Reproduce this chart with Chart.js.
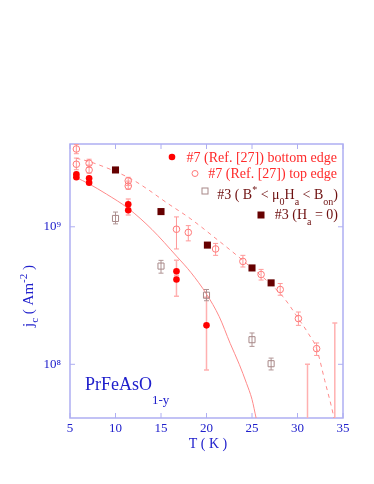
<!DOCTYPE html>
<html>
<head>
<meta charset="utf-8">
<script src="https://cdn.jsdelivr.net/npm/chart.js@4"></script>
<style>
  body { margin: 0; background: #fff; }
</style>
</head>
<body>
<canvas id="myChart" width="374" height="484"></canvas>
<script>
// sample #7 bottom edge (filled red circles)
const bottomT  = [5.7, 5.7, 7.1, 7.1, 11.4, 11.4, 16.7, 16.7, 20.0, 31.1, 34.1];
const bottomJ  = [2.41e9, 2.29e9, 2.25e9, 2.09e9, 1.46e9, 1.32e9, 4.75e8, 4.14e8, 1.92e8, 2.0e7, 2.0e7];
const bottomLo = [null, null, null, null, 1.37e9, 1.22e9, 4.4e8, 3.13e8, 9.1e7, 1.0e7, 1.0e7];
const bottomHi = [null, null, null, null, 1.59e9, 1.42e9, 5.71e8, 4.45e8, 3.08e8, 1.0e8, 2.0e8];

// sample #7 top edge (open circles)
const topT  = [5.7, 5.7, 7.1, 7.1, 11.4, 11.4, 16.7, 18.0, 21.0, 24.0, 26.0, 28.1, 30.1, 32.1];
const topJ  = [3.68e9, 2.85e9, 2.9e9, 2.59e9, 2.16e9, 1.98e9, 9.6e8, 9.1e8, 6.9e8, 5.6e8, 4.5e8, 3.5e8, 2.15e8, 1.3e8];
const topLo = [3.4e9, 2.6e9, 2.7e9, 2.45e9, 2.0e9, 1.87e9, 6.9e8, 7.9e8, 6.2e8, 5.1e8, 4.1e8, 3.18e8, 1.92e8, 1.16e8];
const topHi = [3.97e9, 3.16e9, 3.1e9, 2.81e9, 2.29e9, 2.15e9, 1.18e9, 1.02e9, 7.57e8, 6.2e8, 4.9e8, 3.87e8, 2.4e8, 1.43e8];

// sample #3, B* < mu0 Ha < Bon (open squares)
const sq3T  = [10.0, 15.0, 20.0, 25.0, 27.1];
const sq3J  = [1.15e9, 5.18e8, 3.18e8, 1.51e8, 1.01e8];
const sq3Lo = [1.05e9, 4.6e8, 2.9e8, 1.35e8, 9.1e7];
const sq3Hi = [1.28e9, 5.7e8, 3.5e8, 1.69e8, 1.11e8];

// sample #3, Ha = 0 (filled dark squares)
const h0T = [10.0, 15.0, 20.1, 25.0, 27.1];
const h0J = [2.59e9, 1.29e9, 7.36e8, 5.02e8, 3.91e8];

// guide curves
const fitBottomT = [5.7, 7.1, 9.0, 11.4, 14.0, 16.7, 18.3, 20.0, 21.4, 22.6, 23.6, 24.4, 25.0, 25.45, 25.8];
const fitBottomJ = [2.28e9, 2.05e9, 1.73e9, 1.36e9, 9.57e8, 6.12e8, 4.64e8, 3.24e8, 2.22e8, 1.42e8, 1.0e8, 7.27e7, 5.56e7, 4.07e7, 3.2e7];
const fitTopT = [5.7, 7.2, 11.6, 13.4, 15.6, 18.2, 20.75, 24.4, 28.4, 30.1, 31.2, 32.1, 33.0, 33.9, 34.2];
const fitTopJ = [3.15e9, 2.97e9, 2.25e9, 1.9e9, 1.5e9, 1.15e9, 8.5e8, 5.4e8, 3.1e8, 2.15e8, 1.67e8, 1.3e8, 7.6e7, 4.4e7, 3.5e7];

// axes
const xTicks = [5, 10, 15, 20, 25, 30, 35];
const yDecades = [1e8, 1e9];
const yMin = 4.07e7, yMax = 4.0e9;

const SERIF = "'Liberation Serif', 'Times New Roman', serif";
const BLUE = '#2020cc';
const FRAME = '#aeaef2';

const pts = (xs, ys) => xs.map((v, i) => ({x: v, y: ys[i]}));

function richText(ctx, parts, x, y, size, align, color, subOff) {
  let w = 0;
  const sizes = parts.map(p => p[1] === 'n' ? size : Math.round(size * 0.7));
  parts.forEach((p, i) => { ctx.font = sizes[i] + 'px ' + SERIF; w += ctx.measureText(p[0]).width; });
  let cx = align === 'right' ? x - w : align === 'center' ? x - w / 2 : x;
  ctx.fillStyle = color;
  ctx.textAlign = 'left';
  ctx.textBaseline = 'alphabetic';
  parts.forEach((p, i) => {
    ctx.font = sizes[i] + 'px ' + SERIF;
    let dy = 0;
    if (p[1] === 'sub') dy = size * (subOff || 0.4);
    if (p[1] === 'sup') dy = -size * 0.42;
    ctx.fillText(p[0], cx, y + dy);
    cx += ctx.measureText(p[0]).width;
  });
}

const framePlugin = {
  id: 'frame',
  beforeDatasetsDraw(chart) {
    const {ctx, chartArea: a, scales: {x, y}} = chart;
    ctx.save();
    ctx.strokeStyle = FRAME;
    ctx.lineWidth = 1.5;
    ctx.strokeRect(a.left, a.top, a.right - a.left, a.bottom - a.top);
    ctx.lineWidth = 1;
    ctx.beginPath();
    xTicks.forEach(t => {
      const px = x.getPixelForValue(t);
      ctx.moveTo(px, a.bottom); ctx.lineTo(px, a.bottom - 5);
      ctx.moveTo(px, a.top); ctx.lineTo(px, a.top + 5);
    });
    yDecades.forEach(t => {
      const py = y.getPixelForValue(t);
      ctx.moveTo(a.left, py); ctx.lineTo(a.left + 5, py);
      ctx.moveTo(a.right, py); ctx.lineTo(a.right - 5, py);
    });
    ctx.stroke();

    // error bars
    ctx.beginPath();
    ctx.rect(a.left, a.top, a.right - a.left, a.bottom - a.top);
    ctx.clip();
    chart.data.datasets.forEach(ds => {
      if (!ds.errLo) return;
      ctx.strokeStyle = ds.errColor;
      ctx.lineWidth = ds.errWidth;
      ds.data.forEach((p, i) => {
        const lo = ds.errLo[i], hi = ds.errHi[i];
        if (lo == null) return;
        const px = x.getPixelForValue(p.x);
        const y1 = y.getPixelForValue(lo), y2 = y.getPixelForValue(hi);
        ctx.beginPath();
        ctx.moveTo(px, y1); ctx.lineTo(px, y2);
        ctx.moveTo(px - 2.5, y1); ctx.lineTo(px + 2.5, y1);
        ctx.moveTo(px - 2.5, y2); ctx.lineTo(px + 2.5, y2);
        ctx.stroke();
      });
    });
    ctx.restore();
  }
};

const notesPlugin = {
  id: 'notes',
  afterDraw(chart) {
    const ctx = chart.ctx;
    ctx.save();
    // legend markers
    ctx.fillStyle = '#ff0000';
    ctx.beginPath(); ctx.arc(172, 157, 3.3, 0, Math.PI * 2); ctx.fill();
    ctx.strokeStyle = '#ff7878'; ctx.lineWidth = 1;
    ctx.beginPath(); ctx.arc(195, 173.5, 3, 0, Math.PI * 2); ctx.stroke();
    ctx.strokeStyle = '#a88888';
    ctx.strokeRect(202, 188, 6, 6);
    ctx.fillStyle = '#660000';
    ctx.fillRect(257.5, 211.5, 7, 7);

    // legend text
    richText(ctx, [['#7 (Ref. [27]) bottom edge', 'n']], 337, 162, 14, 'right', '#ff2a2a');
    richText(ctx, [['#7 (Ref. [27]) top edge', 'n']], 337, 178, 14, 'right', '#ff2a2a');
    richText(ctx, [['#3 ( B', 'n'], ['*', 'sup'], [' < \u03bc', 'n'], ['0', 'sub'], ['H', 'n'], ['a', 'sub'],
                   [' < B', 'n'], ['on', 'sub'], [')', 'n']], 338, 199, 14, 'right', '#6e1010', 0.45);
    richText(ctx, [['#3 (H', 'n'], ['a', 'sub'], [' = 0)', 'n']], 338, 219, 14, 'right', '#6e1010', 0.45);

    // sample name
    richText(ctx, [['PrFeAsO', 'n'], ['1-y', 'sub']], 85, 390, 18, 'left', BLUE, 0.8);

    // axis titles
    richText(ctx, [['T ( K )', 'n']], 208, 448, 14, 'center', BLUE);
    ctx.translate(33, 296);
    ctx.rotate(-Math.PI / 2);
    richText(ctx, [['j', 'n'], ['c', 'sub'], [' ( Am', 'n'], ['-2', 'sup'], [' )', 'n']], 0, 0, 15, 'center', BLUE, 0.35);
    ctx.restore();
  }
};

const supDigits = '\u2070\u00b9\u00b2\u00b3\u2074\u2075\u2076\u2077\u2078\u2079';

new Chart(document.querySelector('#myChart'), {
  type: 'scatter',
  data: {
    datasets: [
      {
        label: '#3 (Ha = 0)',
        data: pts(h0T, h0J),
        pointStyle: 'rect',
        pointRadius: 5,
        backgroundColor: '#660000',
        borderColor: '#660000',
        borderWidth: 0
      },
      {
        label: '#7 (Ref. [27]) bottom edge',
        data: pts(bottomT, bottomJ),
        pointStyle: 'circle',
        pointRadius: 3.3,
        backgroundColor: '#ff0000',
        borderColor: '#ff0000',
        borderWidth: 0,
        errLo: bottomLo, errHi: bottomHi, errColor: '#ffb0b0', errWidth: 1.5
      },
      {
        label: '#7 (Ref. [27]) top edge',
        data: pts(topT, topJ),
        pointStyle: 'circle',
        pointRadius: 3.3,
        backgroundColor: 'rgba(0,0,0,0)',
        borderColor: '#ff7878',
        borderWidth: 1,
        errLo: topLo, errHi: topHi, errColor: '#ff9a9a', errWidth: 1
      },
      {
        label: '#3 ( B* < μ0Ha < Bon)',
        data: pts(sq3T, sq3J),
        pointStyle: 'rect',
        pointRadius: 4.3,
        backgroundColor: 'rgba(0,0,0,0)',
        borderColor: '#a88888',
        borderWidth: 1,
        errLo: sq3Lo, errHi: sq3Hi, errColor: '#b09494', errWidth: 1
      },
      {
        data: pts(fitBottomT, fitBottomJ),
        showLine: true,
        pointRadius: 0,
        borderColor: '#ff8a8a',
        borderWidth: 1,
        cubicInterpolationMode: 'monotone'
      },
      {
        data: pts(fitTopT, fitTopJ),
        showLine: true,
        pointRadius: 0,
        borderColor: '#ff8a8a',
        borderWidth: 1,
        borderDash: [4, 4],
        cubicInterpolationMode: 'monotone'
      }
    ]
  },
  options: {
    responsive: false,
    animation: false,
    devicePixelRatio: 1,
    layout: { padding: { top: 144, right: 31, left: 0, bottom: 0 } },
    plugins: { legend: { display: false }, tooltip: { enabled: false } },
    scales: {
      x: {
        type: 'linear',
        min: 5, max: 35,
        afterFit: s => { s.height = 66; },
        grid: { display: false, drawTicks: false },
        border: { display: false },
        ticks: { stepSize: 5, padding: 3, color: BLUE, font: { family: SERIF, size: 13 } }
      },
      y: {
        type: 'logarithmic',
        min: yMin, max: yMax,
        afterFit: s => { s.width = 70; },
        grid: { display: false, drawTicks: false },
        border: { display: false },
        ticks: {
          autoSkip: false,
          padding: 9,
          color: BLUE,
          font: { family: SERIF, size: 13 },
          callback: v => {
            const l = Math.log10(v);
            return Math.abs(l - Math.round(l)) < 1e-9 ? '10' + supDigits[Math.round(l)] : '';
          }
        }
      }
    }
  },
  plugins: [framePlugin, notesPlugin]
});
</script>
</body>
</html>
